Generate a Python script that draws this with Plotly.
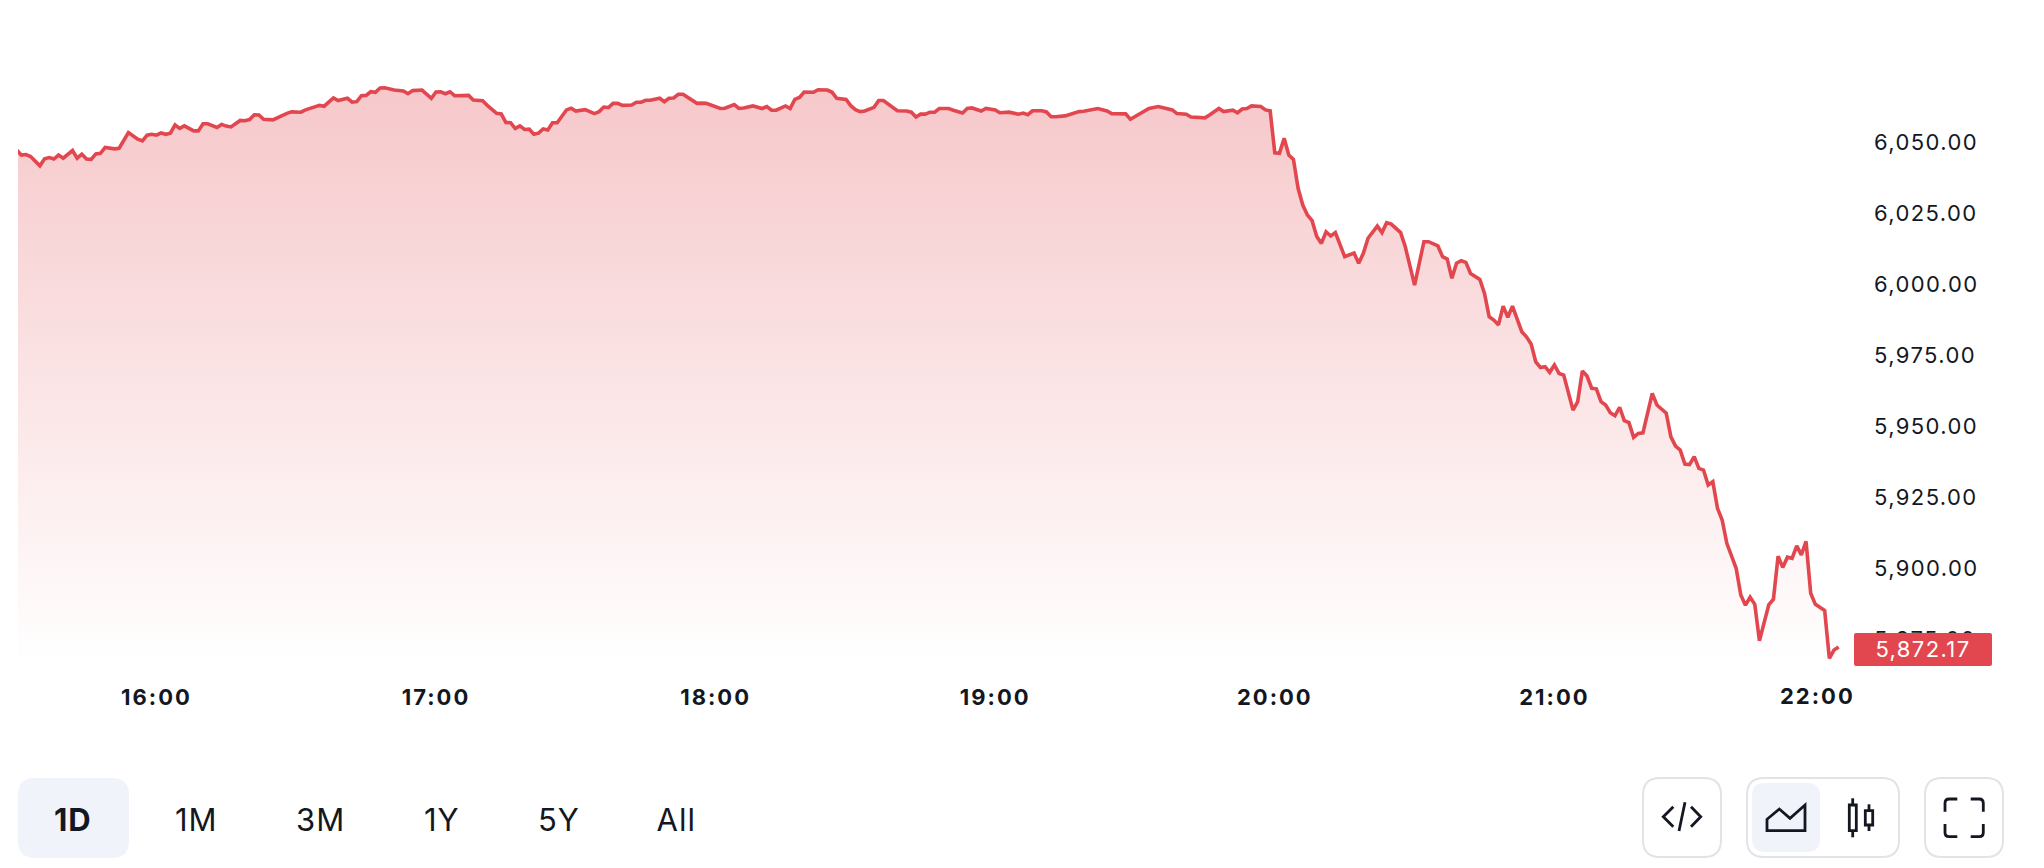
import plotly.graph_objects as go

# Minutes since 15:30 and index level (same order, same grouping)
minutes = [
 0,1,2,3,5,6,7,8,9,10,12,13,14,15,16,17,18,19,21,22,24,26,27,28,29,30,31,32,33,34,
 35,36,38,39,40,41,43,44,45,46,48,49,50,51,52,53,55,57,58,59,61,62,64,65,66,68,69,71,72,73,
 74,75,76,77,78,79,81,83,84,85,87,89,90,91,92,93,94,97,98,100,101,103,104,105,106,107,108,109,110,111,
 112,113,114,115,116,118,119,120,122,124,125,126,127,128,129,130,132,133,134,135,136,138,
 139,140,141,142,143,144,146,147,148,151,152,154,155,156,158,160,161,162,163,165,166,167,168,169,171,172,
 174,175,176,178,179,180,181,182,184,185,186,189,191,192,193,194,195,196,197,198,200,201,203,204,205,207,208,210,211,213,
 215,216,217,218,220,221,222,223,224,225,228,229,232,234,235,238,239,241,243,245,248,249,251,252,254,255,256,258,259,261,
 262,263,264,265,267,268,269,
 270,271,272,273,274,275,276,277,278,279,280,281,282,283,285,287,288,289,290,292,293,294,295,297,298,300,302,303,305,306,
 307,308,309,310,311,312,314,315,316,317,
 318,319,320,321,323,324,325,326,327,328,329,330,331,332,334,335,336,337,338,339,340,341,342,343,344,345,346,347,348,349,
 351,352,354,355,356,357,358,359,360,361,362,363,364,
 365,366,367,369,370,371,372,373,374,376,377,378,379,380,381,382,383,384,385,386,388,389,390,391,
]
index_level = [
 6047.2,6045.4,6045.6,6044.9,6041.6,6044.1,6044.5,6044.0,6045.4,6044.3,6047.0,6044.3,6045.7,6044.0,6043.9,6045.8,6046.0,6048.1,6047.6,6047.8,6053.3,6051.0,6050.4,6052.4,6052.7,6052.4,6053.2,6052.7,6053.1,6056.0,
 6054.8,6055.7,6053.9,6053.9,6056.4,6056.4,6055.1,6056.2,6055.6,6055.3,6057.6,6057.5,6057.9,6059.6,6059.5,6058.0,6057.8,6059.5,6060.1,6060.6,6060.5,6061.3,6062.5,6062.9,6062.6,6065.5,6064.6,6065.4,6064.0,6064.2,
 6066.3,6066.4,6067.7,6067.5,6069.0,6069.1,6068.3,6068.0,6067.0,6068.1,6068.3,6065.4,6067.6,6067.7,6067.0,6067.7,6066.3,6066.4,6064.8,6064.5,6062.9,6060.1,6059.9,6056.9,6056.8,6054.8,6055.7,6054.4,6054.5,6052.7,
 6053.1,6054.6,6054.2,6056.8,6056.8,6061.3,6061.9,6060.9,6061.4,6060.0,6060.7,6062.3,6062.1,6063.6,6063.6,6062.9,6063.0,6064.0,6064.0,6064.7,6064.7,6065.4,
 6064.2,6065.4,6065.5,6066.8,6066.8,6065.7,6063.6,6063.7,6063.6,6061.8,6061.9,6063.2,6061.8,6062.0,6062.7,6061.8,6062.5,6061.2,6061.2,6062.7,6061.8,6065.0,6065.7,6067.6,6067.5,6068.4,
 6068.3,6067.5,6065.4,6065.0,6062.8,6061.4,6060.7,6060.9,6062.2,6064.6,6064.6,6061.0,6060.9,6060.5,6058.8,6059.8,6059.8,6060.5,6060.5,6061.8,6061.8,6061.2,6060.2,6061.8,6062.0,6060.9,6061.8,6061.3,6060.3,6060.5,
 6059.8,6060.2,6059.6,6061.0,6061.0,6060.6,6058.9,6058.9,6059.2,6059.2,6060.7,6060.8,6061.8,6060.9,6060.0,6059.9,6058.0,6059.9,6061.8,6062.5,6061.3,6060.0,6059.8,6058.8,6058.8,6058.5,6059.5,6061.8,6060.7,6061.2,
 6060.3,6061.6,6061.8,6062.7,6062.5,6061.3,6061.0,
 6046.2,6046.0,6051.3,6045.4,6043.9,6033.7,6027.8,6024.3,6022.3,6016.7,6014.3,6018.4,6016.9,6018.1,6009.6,6010.9,6007.3,6010.8,6016.1,6020.4,6018.1,6021.6,6021.1,6018.1,6013.1,5999.6,6014.9,6014.9,6013.4,6009.6,
 6008.8,6002.0,6007.3,6008.2,6007.6,6003.7,6001.6,5996.7,5988.5,5987.3,
 5985.6,5992.2,5988.3,5992.2,5983.2,5981.4,5978.9,5972.6,5970.6,5970.9,5968.9,5971.5,5968.5,5967.9,5955.6,5958.6,5969.4,5967.6,5963.3,5963.1,5958.6,5957.4,5954.7,5953.6,5956.6,5951.9,5951.2,5946.0,5947.4,5947.6,
 5961.5,5957.4,5954.5,5946.2,5942.9,5941.5,5936.6,5936.4,5939.2,5935.1,5934.5,5929.2,5930.4,
 5921.0,5916.9,5908.7,5899.9,5890.5,5886.9,5889.7,5887.2,5874.4,5887.0,5889.0,5904.2,5900.2,5903.8,5903.4,5907.8,5904.6,5909.4,5891.1,5887.2,5885.0,5868.2,5871.1,5872.17,
]
x_tick_minutes = [30, 90, 150, 210, 270, 330]
x_tick_labels = ["16:00", "17:00", "18:00", "19:00", "20:00", "21:00"]
last_tick_minute = 390
last_tick_label = "22:00"
y_ticks = [5875, 5900, 5925, 5950, 5975, 6000, 6025, 6050]
last_price = 5872.17
ranges = ["1D", "1M", "3M", "1Y", "5Y", "All"]
range_centers = [73, 196, 320, 442, 559, 676]

W, H = 2044, 868
RED = "#e2474f"
INK = "#131722"
PANEL = "#f0f3fa"
BORDER = "#e2e3e8"
FONT = "Inter"
PLOT_L, PLOT_R, PLOT_T, PLOT_B = 18, 1854, 0, 666
X_RANGE = [0.3, 0.3 + (PLOT_R - PLOT_L) / 4.66]
Y_RANGE = [5900 - (PLOT_B - 568) / 2.84, 5900 + (568 - PLOT_T) / 2.84]

fig = go.Figure()
fig.add_trace(go.Scatter(
    x=minutes, y=index_level, mode="lines", fill="tozeroy",
    line=dict(color=RED, width=3.6),
    fillgradient=dict(type="vertical", start=Y_RANGE[0], stop=max(index_level),
                      colorscale=[[0, "rgba(226,71,79,0)"], [1, "rgba(226,71,79,0.30)"]]),
    hoverinfo="skip", showlegend=False, cliponaxis=True,
))
fig.add_trace(go.Scatter(x=[None], y=[None], xaxis="x2", yaxis="y2", hoverinfo="skip", showlegend=False))


def rrect(x0, y0, x1, y1, r):
    return (f"M{x0+r},{y0} H{x1-r} Q{x1},{y0} {x1},{y0+r} V{y1-r} Q{x1},{y1} {x1-r},{y1} "
            f"H{x0+r} Q{x0},{y1} {x0},{y1-r} V{y0+r} Q{x0},{y0} {x0+r},{y0} Z")


def add(path, fill=None, line=None, width=0):
    fig.add_shape(type="path", path=path, xref="x2", yref="y2", layer="above",
                  fillcolor=fill or "rgba(0,0,0,0)",
                  line=dict(color=line or "rgba(0,0,0,0)", width=width))


def ix(v):
    return 1620 + v / 3


def iy(v):
    return 760 + v / 3


def poly(points, close=False):
    s = "M" + " L".join(f"{ix(a):.1f},{iy(b):.1f}" for a, b in points)
    return s + (" Z" if close else "")


# range selector highlight
add(rrect(18, 778, 129, 858, 17), fill=PANEL)
# toolbar boxes
add(rrect(1643, 778, 1721, 857, 17), line=BORDER, width=2)
add(rrect(1747, 778, 1899, 857, 17), line=BORDER, width=2)
add(rrect(1752, 783, 1820, 852, 13), fill=PANEL)
add(rrect(1925, 778, 2003, 857, 17), line=BORDER, width=2)
# code icon
add(poly([(160, 140), (130, 170), (160, 200)]), line=INK, width=2.8)
add(poly([(195, 127), (177, 213)]), line=INK, width=2.8)
add(poly([(213, 140), (242, 170), (213, 200)]), line=INK, width=2.8)
# area icon
add(poly([(441, 212), (441, 178), (478, 147), (510, 175), (555, 135), (555, 212)], close=True), line=INK, width=2.8)
# candle icon
add(poly([(698, 115), (698, 135)]), line=INK, width=2.8)
add(poly([(698, 212), (698, 232)]), line=INK, width=2.8)
add(poly([(688, 135), (709, 135), (709, 212), (688, 212)], close=True), line=INK, width=2.8)
add(poly([(747, 133), (747, 152)]), line=INK, width=2.8)
add(poly([(747, 195), (747, 213)]), line=INK, width=2.8)
add(poly([(736, 152), (758, 152), (758, 195), (736, 195)], close=True), line=INK, width=2.8)
# fullscreen icon
for pts in [((975, 155), (975, 117), (1012, 117)), ((1052, 117), (1090, 117), (1090, 155)),
            ((1090, 192), (1090, 230), (1052, 230)), ((1012, 230), (975, 230), (975, 192))]:
    (a, b), (c, d), (e, f) = pts
    sx = 0.6 * (a - c)
    sy = 0.6 * (b - d)
    add(f"M{ix(a):.1f},{iy(b):.1f} L{ix(c + sx*0.55):.1f},{iy(d + sy*0.55):.1f} "
        f"Q{ix(c):.1f},{iy(d):.1f} {ix(c + (e-c)*0.33):.1f},{iy(d + (f-d)*0.33):.1f} L{ix(e):.1f},{iy(f):.1f}",
        line=INK, width=2.8)
# last price badge
add(rrect(1854, 633, 1992, 666, 2), fill=RED)

annotations = [
    dict(x=1923, y=648.5, xref="x2", yref="y2", text=f"{last_price:,.2f}", showarrow=False,
         font=dict(family=FONT, size=22, color="#ffffff")),
    dict(x=last_tick_minute, y=695.5, xref="x", yref="y2", xshift=-17, text=f"<b>{last_tick_label}</b>",
         showarrow=False, font=dict(family=FONT, size=22, color=INK)),
]
for i, (label, cx) in enumerate(zip(ranges, range_centers)):
    annotations.append(dict(x=cx, y=819, xref="x2", yref="y2",
                            text=f"<b>{label}</b>" if i == 0 else label, showarrow=False,
                            font=dict(family=FONT, size=31, color=INK)))

fig.update_layout(
    width=W, height=H, margin=dict(l=0, r=0, t=0, b=0, autoexpand=False),
    paper_bgcolor="#ffffff", plot_bgcolor="rgba(0,0,0,0)", showlegend=False,
    font=dict(family=FONT, color=INK),
    annotations=annotations,
    xaxis=dict(domain=[PLOT_L / W, PLOT_R / W], range=X_RANGE, showgrid=False, zeroline=False, showline=False,
               tickmode="array", tickvals=x_tick_minutes, ticktext=[f"<b>{t}</b>" for t in x_tick_labels],
               ticks="", ticklabelstandoff=16, tickfont=dict(family=FONT, size=22, color=INK), anchor="y"),
    yaxis=dict(domain=[1 - PLOT_B / H, 1 - PLOT_T / H], range=Y_RANGE, side="right", showgrid=False, zeroline=False,
               showline=False, tickmode="array", tickvals=y_ticks, tickformat=",.2f", ticks="",
               ticklabelstandoff=19, tickfont=dict(family=FONT, size=22, color=INK), anchor="x"),
    xaxis2=dict(domain=[0, 1], range=[0, W], visible=False, anchor="y2"),
    yaxis2=dict(domain=[0, 1], range=[H, 0], visible=False, anchor="x2"),
)

post = """
document.body.style.margin='0';document.body.style.overflow='hidden';
var sp=function(sel,v){document.querySelectorAll(sel).forEach(function(t){t.style.letterSpacing=v;});};
sp('.xtick text','2px');
sp('.ytick text','1.4px');
sp('g.annotation text','1px');
document.querySelectorAll('g.annotation text').forEach(function(t){
  if(t.textContent.indexOf(':')>=0){t.style.letterSpacing='2px';}
  if(t.textContent.indexOf(',')>=0){t.style.letterSpacing='1.4px';}
});
"""
fig.write_html("out.html", config=dict(displayModeBar=False), post_script=post)
